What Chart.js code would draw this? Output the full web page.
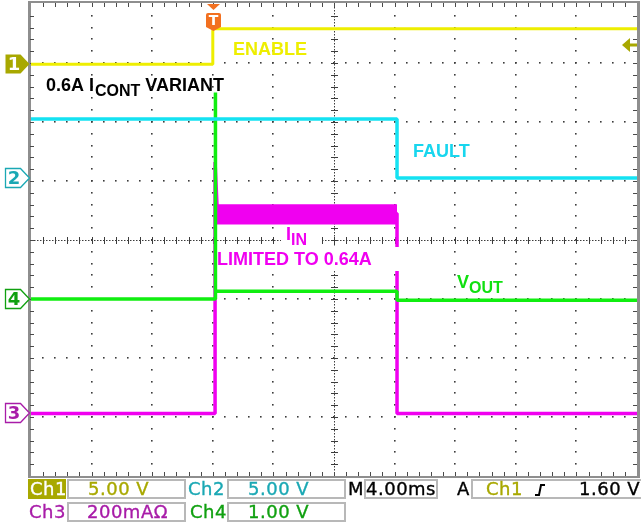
<!DOCTYPE html>
<html>
<head>
<meta charset="utf-8">
<script src="https://cdn.jsdelivr.net/npm/chart.js@4.4.1/dist/chart.umd.min.js"></script>
<style>
  html, body { margin: 0; padding: 0; background: #fff; }
  #wrap { position: relative; width: 641px; height: 522px; overflow: hidden; }
  #scope { position: absolute; left: 0; top: 0; }
  .st { position: absolute; height: 20px; line-height: 20px; font-family: "DejaVu Sans", sans-serif;
        font-size: 18px; letter-spacing: 0.5px; white-space: nowrap; -webkit-text-stroke: 0.35px currentColor; }
  .box { position: absolute; height: 20px; background: #fff; border: 2px solid #b8b8b8; box-sizing: border-box; }
</style>
</head>
<body>
<div id="wrap">
  <canvas id="scope" width="641" height="522"></canvas>
  <div id="status"></div>
</div>
<script>
// ════════════════════════════════════════════════════════════════
// Scope capture: 0.6A ICONT variant, current limit into a fault
// values are in screen divisions (y) and milliseconds (x)
// ════════════════════════════════════════════════════════════════

const MS_PER_DIV = 4;
const X_DIVS = 10;
const Y_DIVS = 8;

// Ch1 – ENABLE
const ch1Time  = [0, 12.0, 12.0, 40];
const ch1Level = [2.98, 2.98, 3.58, 3.58];

// Ch2 – FAULT
const ch2Time  = [0, 24.16, 24.16, 40];
const ch2Level = [2.05, 2.05, 1.05, 1.05];

// Ch4 – VOUT
const ch4Time  = [0, 12.15, 12.15, 12.2, 24.16, 24.16, 40];
const ch4Level = [-1.0, -1.0, 2.5, -0.87, -0.87, -1.02, -1.02];

// Ch3 – IIN
const ch3Time  = [0, 12.15, 12.15, 12.3, 24.16, 24.16, 40];
const ch3Level = [-2.94, -2.94, 1.32, 0.45, 0.45, -2.94, -2.94];

// Ch3 noise envelope while current limited
const ch3BandTime = [12.2, 24.16];
const ch3BandHigh = [0.59, 0.59];
const ch3BandLow  = [0.28, 0.28];

// channel ground markers + trigger
const chNames  = ['1', '2', '3', '4'];
const chGround = [2.98, 1.05, -2.94, -1.0];
const trigTime  = 12.0;
const trigLevel = 3.30;

// readout
const chScale   = ['5.00 V', '5.00 V', '200mA\u03A9', '1.00 V'];
const timeBase  = '4.00ms';
const trigText  = '1.60 V';

const TRACE = { ch1: '#eeee00', ch2: '#14e2f2', ch3: '#f000f0', ch4: '#10ee10' };
const READ  = { ch1: '#a8a800', ch2: '#1aa8b4', ch3: '#a81ca8', ch4: '#10a010' };

function pts(t, v) {
  return t.map(function (tt, i) { return { x: tt, y: v[i] }; });
}

// ── Graticule (drawn under the traces) ──────────────────────────
function drawGraticule(chart) {
  const ctx = chart.ctx, a = chart.chartArea;
  const xs = chart.scales.x, ys = chart.scales.y;
  const xMax = X_DIVS * MS_PER_DIV;
  ctx.save();

  // dotted grid, 5 dots per division
  ctx.fillStyle = '#3c3c3c';
  for (let i = 1; i < X_DIVS; i++) {
    if (i === X_DIVS / 2) continue;
    const px = Math.round(xs.getPixelForValue(i * MS_PER_DIV));
    for (let k = 1; k < Y_DIVS * 5; k++) {
      const py = Math.round(ys.getPixelForValue(-Y_DIVS / 2 + k * 0.2));
      ctx.fillRect(px - 1, py - 1, 1.6, 1.6);
    }
  }
  for (let j = 1; j < Y_DIVS; j++) {
    if (j === Y_DIVS / 2) continue;
    const py = Math.round(ys.getPixelForValue(-Y_DIVS / 2 + j));
    for (let k = 1; k < X_DIVS * 5; k++) {
      const px = Math.round(xs.getPixelForValue(k * MS_PER_DIV / 5));
      ctx.fillRect(px - 1, py - 1, 1.6, 1.6);
    }
  }

  // centre cross lines with minor ticks
  const cx = Math.round(xs.getPixelForValue(xMax / 2));
  const cy = Math.round(ys.getPixelForValue(0));
  ctx.strokeStyle = '#3c3c3c';
  ctx.lineWidth = 1;
  ctx.setLineDash([1.5, 1.5]);
  ctx.beginPath();
  ctx.moveTo(a.left, cy + 0.5); ctx.lineTo(a.right, cy + 0.5);
  ctx.moveTo(cx + 0.5, a.top); ctx.lineTo(cx + 0.5, a.bottom);
  ctx.stroke();
  ctx.setLineDash([]);
  ctx.beginPath();
  for (let k = 1; k < X_DIVS * 5; k++) {
    const px = Math.round(xs.getPixelForValue(k * MS_PER_DIV / 5)) + 0.5;
    ctx.moveTo(px, cy - 3); ctx.lineTo(px, cy + 4);
  }
  for (let k = 1; k < Y_DIVS * 5; k++) {
    const py = Math.round(ys.getPixelForValue(-Y_DIVS / 2 + k * 0.2)) + 0.5;
    ctx.moveTo(cx - 3, py); ctx.lineTo(cx + 4, py);
  }
  ctx.stroke();

  // frame with edge ticks
  ctx.fillStyle = '#8e8e8e';
  ctx.fillRect(a.left - 3, a.top - 3, 3, a.height + 5);
  ctx.fillRect(a.left - 3, a.top - 3, a.width + 6, 2);
  ctx.fillRect(a.right, a.top - 3, 3, a.height + 5);
  ctx.fillRect(a.left - 3, a.bottom, a.width + 6, 2);
  ctx.strokeStyle = '#4a4a4a';
  ctx.beginPath();
  for (let k = 1; k < X_DIVS * 5; k++) {
    const px = Math.round(xs.getPixelForValue(k * MS_PER_DIV / 5)) + 0.5;
    ctx.moveTo(px, a.top - 1); ctx.lineTo(px, a.top + 3);
    ctx.moveTo(px, a.bottom - 4); ctx.lineTo(px, a.bottom);
  }
  for (let k = 1; k < Y_DIVS * 5; k++) {
    const py = Math.round(ys.getPixelForValue(-Y_DIVS / 2 + k * 0.2)) + 0.5;
    ctx.moveTo(a.left - 1, py); ctx.lineTo(a.left + 3, py);
    ctx.moveTo(a.right - 4, py); ctx.lineTo(a.right, py);
  }
  ctx.stroke();
  ctx.restore();
}

// ── Annotation text ─────────────────────────────────────────────
function rich(ctx, parts, x, y, color) {
  ctx.fillStyle = color;
  ctx.textBaseline = 'alphabetic';
  let cx = x;
  parts.forEach(function (p) {
    ctx.font = 'bold ' + p.size + 'px "Liberation Sans", Arial, sans-serif';
    ctx.fillText(p.t, cx + (p.dx || 0), y + (p.dy || 0));
    cx += ctx.measureText(p.t).width + (p.dx || 0);
  });
}

function drawLabels(chart) {
  const ctx = chart.ctx;
  ctx.save();
  // white label boxes hide the trace behind them
  ctx.fillStyle = '#fff';
  ctx.fillRect(281, 225, 41, 22);
  ctx.fillRect(218, 247, 182, 24);

  rich(ctx, [{ t: '0.6A I', size: 18 }, { t: 'CONT', size: 16, dy: 5, dx: 1 }, { t: ' VARIANT', size: 18 }], 46, 91, '#000');
  rich(ctx, [{ t: 'ENABLE', size: 18 }], 233, 55, TRACE.ch1);
  rich(ctx, [{ t: 'FAULT', size: 18 }], 413, 157, '#18d6ee');
  rich(ctx, [{ t: 'I', size: 18 }, { t: 'IN', size: 16, dy: 5, dx: 0 }], 286, 240, TRACE.ch3);
  rich(ctx, [{ t: 'LIMITED TO 0.64A', size: 18 }], 217, 265, TRACE.ch3);
  rich(ctx, [{ t: 'V', size: 18 }, { t: 'OUT', size: 16, dy: 5, dx: 0 }], 457, 288, '#10e010');
  ctx.restore();
}

// ── Channel / trigger markers ───────────────────────────────────
function drawMarkers(chart) {
  const ctx = chart.ctx, xs = chart.scales.x, ys = chart.scales.y, a = chart.chartArea;
  const cols = [READ.ch1, READ.ch2, READ.ch3, READ.ch4];
  ctx.save();
  chNames.forEach(function (n, i) {
    const cy = Math.round(ys.getPixelForValue(chGround[i]));
    ctx.beginPath();
    ctx.moveTo(5.5, cy - 9.5);
    ctx.lineTo(20.5, cy - 9.5);
    ctx.lineTo(29.5, cy);
    ctx.lineTo(20.5, cy + 9.5);
    ctx.lineTo(5.5, cy + 9.5);
    ctx.closePath();
    if (i === 0) {
      ctx.fillStyle = cols[i]; ctx.fill();
    } else {
      ctx.fillStyle = '#fff'; ctx.fill();
      ctx.strokeStyle = cols[i]; ctx.lineWidth = 1.3; ctx.stroke();
    }
    ctx.fillStyle = i === 0 ? '#fff' : cols[i];
    ctx.font = 'bold 18px "DejaVu Sans", sans-serif';
    ctx.textAlign = 'center';
    ctx.textBaseline = 'middle';
    ctx.fillText(n, 14, cy + 1);
  });

  // trigger level arrow (right edge)
  const ty = Math.round(ys.getPixelForValue(trigLevel));
  ctx.fillStyle = READ.ch1;
  ctx.beginPath();
  ctx.moveTo(a.right - 15, ty);
  ctx.lineTo(a.right - 7, ty - 7);
  ctx.lineTo(a.right - 7, ty + 7);
  ctx.closePath();
  ctx.fill();
  ctx.fillRect(a.right - 8, ty - 1.5, 8, 3);

  // trigger position "T" (top edge)
  const tx = Math.round(xs.getPixelForValue(trigTime));
  ctx.fillStyle = '#f27020';
  ctx.beginPath();
  ctx.moveTo(tx - 6, 4); ctx.lineTo(tx + 7, 4); ctx.lineTo(tx + 0.5, 10);
  ctx.closePath(); ctx.fill();
  ctx.beginPath();
  ctx.moveTo(tx - 5, 13); ctx.lineTo(tx + 6, 13);
  ctx.quadraticCurveTo(tx + 8, 13, tx + 8, 15);
  ctx.lineTo(tx + 8, 27); ctx.lineTo(tx + 0.5, 31); ctx.lineTo(tx - 7, 27);
  ctx.lineTo(tx - 7, 15);
  ctx.quadraticCurveTo(tx - 7, 13, tx - 5, 13);
  ctx.closePath(); ctx.fill();
  ctx.fillStyle = '#fff';
  ctx.font = 'bold 14px "DejaVu Sans", sans-serif';
  ctx.textAlign = 'center';
  ctx.textBaseline = 'middle';
  ctx.fillText('T', tx + 0.5, 21);
  ctx.restore();
}

const scopeDecor = {
  id: 'scopeDecor',
  beforeDatasetsDraw: function (chart) { drawGraticule(chart); },
  afterDatasetsDraw: function (chart) { drawLabels(chart); drawMarkers(chart); }
};

// ── Chart ───────────────────────────────────────────────────────
function trace(label, data, color, width, extra) {
  return Object.assign({
    label: label,
    data: data,
    borderColor: color,
    backgroundColor: color,
    borderWidth: width,
    pointRadius: 0,
    tension: 0,
    fill: false,
    borderJoinStyle: 'bevel'
  }, extra || {});
}

new Chart(document.getElementById('scope'), {
  type: 'line',
  data: {
    datasets: [
      trace('Ch1', pts(ch1Time, ch1Level), TRACE.ch1, 3),
      trace('Ch2', pts(ch2Time, ch2Level), TRACE.ch2, 3.5),
      trace('Ch4', pts(ch4Time, ch4Level), TRACE.ch4, 3.5),
      trace('Ch3', pts(ch3Time, ch3Level), TRACE.ch3, 3.5),
      trace('Ch3 hi', pts(ch3BandTime, ch3BandHigh), TRACE.ch3, 2),
      trace('Ch3 lo', pts(ch3BandTime, ch3BandLow), TRACE.ch3, 2, { fill: '-1' })
    ]
  },
  options: {
    responsive: false,
    animation: false,
    events: [],
    layout: { padding: { left: 31, right: 4, top: 4, bottom: 46 } },
    plugins: { legend: { display: false }, tooltip: { enabled: false } },
    scales: {
      x: { type: 'linear', min: 0, max: X_DIVS * MS_PER_DIV, display: false },
      y: { type: 'linear', min: -Y_DIVS / 2, max: Y_DIVS / 2, display: false }
    }
  },
  plugins: [scopeDecor]
});

// ── Readout bar ─────────────────────────────────────────────────
(function () {
  const s = document.getElementById('status');
  const R1 = 479, R2 = 502;
  let html = '';
  function box(l, t, w) { html += '<div class="box" style="left:' + l + 'px;top:' + t + 'px;width:' + w + 'px"></div>'; }
  function txt(l, t, str, col, bg) {
    html += '<div class="st" style="left:' + l + 'px;top:' + t + 'px;color:' + col + (bg ? ';background:' + bg : '') + '">' + str + '</div>';
  }
  html += '<div class="st" style="left:28px;top:' + R1 + 'px;width:38px;background:' + READ.ch1 + '"></div>';
  txt(30, R1, 'Ch1', '#fff');
  box(67, R1, 119); txt(88, R1, chScale[0], READ.ch1);
  txt(188, R1, 'Ch2', READ.ch2);
  box(227, R1, 119); txt(248, R1, chScale[1], READ.ch2);
  txt(348, R1, 'M', '#000');
  box(364, R1, 74); txt(366, R1, timeBase, '#000');
  txt(457, R1, 'A', '#000');
  box(471, R1, 172); txt(486, R1, 'Ch1', READ.ch1);
  html += '<svg style="position:absolute;left:534px;top:' + (R1 + 4) + 'px" width="12" height="14">'
        + '<path d="M1 12 H5 L7 2 H11" fill="none" stroke="#000" stroke-width="2"/></svg>';
  txt(579, R1, trigText, '#000');
  txt(29, R2, 'Ch3', READ.ch3);
  box(67, R2, 119); txt(87, R2, chScale[2], READ.ch3);
  txt(190, R2, 'Ch4', READ.ch4);
  box(227, R2, 119); txt(248, R2, chScale[3], READ.ch4);
  s.innerHTML = html;
})();
</script>
</body>
</html>
